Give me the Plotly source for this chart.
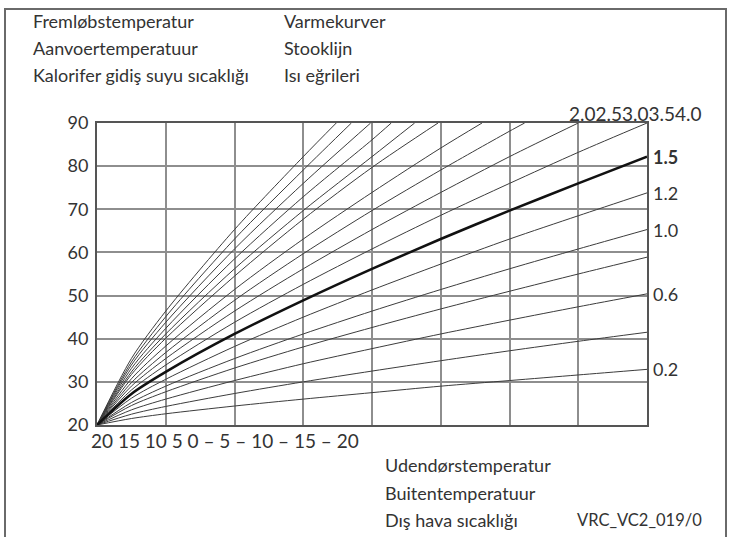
import plotly.graph_objects as go

# Outdoor temperature sample points (x axis, reversed: 20 .. -20)
t_out = [20, 17.5, 15, 10, 5, 0, -5, -10, -15, -20]

# Flow temperature curves
c_020 = [20, 21.5, 22.6, 24.4, 26.0, 27.5, 29.0, 30.3, 31.6, 32.9]
c_040 = [20, 22.5, 24.3, 27.3, 30.0, 32.5, 34.9, 37.2, 39.4, 41.5]
c_060 = [20, 23.5, 26.0, 30.3, 34.2, 37.7, 41.1, 44.3, 47.4, 50.4]
c_080 = [20, 24.5, 27.7, 33.2, 38.1, 42.6, 46.9, 51.0, 55.0, 58.9]
c_100 = [20, 25.2, 29.0, 35.4, 41.1, 46.4, 51.4, 56.2, 60.8, 65.3]
c_120 = [20, 26.2, 30.6, 38.2, 45.0, 51.3, 57.3, 63.1, 68.5, 73.8]
c_150 = [20, 27.2, 32.3, 41.1, 48.9, 56.2, 63.1, 69.7, 76.0, 82.2]
c_175 = [20, 28.1, 33.9, 43.8, 52.6, 60.8, 68.6, 76.0, 83.2, 90.0]

x_200 = [20, 17.5, 15, 10, 5, 0, -5, -10, -15]
c_200 = [20, 29.0, 35.4, 46.4, 56.2, 65.3, 73.9, 82.2, 90.0]
x_225 = [20, 17.5, 15, 10, 5, 0, -5, -10, -11.1]
c_225 = [20, 29.8, 36.8, 48.9, 59.7, 69.7, 79.1, 88.1, 90.0]
x_250 = [20, 17.5, 15, 10, 5, 0, -5, -8]
c_250 = [20, 30.7, 38.3, 51.4, 63.1, 73.9, 84.2, 90.0]
x_275 = [20, 17.5, 15, 10, 5, 0, -4.8]
c_275 = [20, 31.7, 40.1, 54.5, 67.7, 79.7, 90.0]
x_300 = [20, 17.5, 15, 10, 5, 0, -3.1]
c_300 = [20, 32.3, 41.1, 56.2, 69.7, 82.2, 90.0]
x_325 = [20, 17.5, 15, 10, 5, 0, -1.4]
c_325 = [20, 33.1, 42.4, 58.5, 72.9, 86.1, 90.0]
x_350 = [20, 17.5, 15, 10, 5, 0.1]
c_350 = [20, 33.9, 43.8, 60.8, 76.0, 90.0]
x_375 = [20, 17.5, 15, 10, 5, 1.5]
c_375 = [20, 34.6, 45.1, 63.1, 79.1, 90.0]
x_400 = [20, 17.5, 15, 10, 5, 2.6]
c_400 = [20, 35.4, 46.4, 65.3, 82.2, 90.0]

curves = [
    ("0.2", t_out, c_020), ("0.4", t_out, c_040), ("0.6", t_out, c_060),
    ("0.8", t_out, c_080), ("1.0", t_out, c_100), ("1.2", t_out, c_120),
    ("1.75", t_out, c_175), ("2.0", x_200, c_200), ("2.25", x_225, c_225),
    ("2.5", x_250, c_250), ("2.75", x_275, c_275), ("3.0", x_300, c_300),
    ("3.25", x_325, c_325), ("3.5", x_350, c_350), ("3.75", x_375, c_375),
    ("4.0", x_400, c_400),
]

right_labels = ["0.2", "0.6", "1.0", "1.2", "1.5"]
right_values = [c_020[-1], c_060[-1], c_100[-1], c_120[-1], c_150[-1]]
top_labels = ["2.0", "2.5", "3.0", "3.5", "4.0"]
x_tick_vals = [20, 15, 10, 5, 0, -5, -10, -15, -20]
x_tick_labels = ["20", "15", "10", "5", "0", "– 5", "– 10", "– 15", "– 20"]
y_tick_vals = [20, 30, 40, 50, 60, 70, 80, 90]

left_titles = ["Fremløbstemperatur", "Aanvoertemperatuur", "Kalorifer gidiş suyu sıcaklığı"]
mid_titles = ["Varmekurver", "Stooklijn", "Isı eğrileri"]
bottom_titles = ["Udendørstemperatur", "Buitentemperatuur", "Dış hava sıcaklığı"]
code_text = "VRC_VC2_019/0"

FONT = "Lato"
TXT = "#333333"

fig = go.Figure()
for name, xs, ys in curves:
    fig.add_trace(go.Scatter(x=xs, y=ys, mode="lines", name=name,
                             line=dict(color="#3c3c3c", width=1, shape="spline", smoothing=0.8),
                             hoverinfo="skip"))
fig.add_trace(go.Scatter(x=t_out, y=c_150, mode="lines", name="1.5",
                         line=dict(color="#111111", width=2.6, shape="spline", smoothing=0.8),
                         hoverinfo="skip"))

# plot geometry (pixels)
L, R, T, B = 97, 647, 123, 425
W, H = R - L, B - T
def px(x): return (x - L) / W
def py(y): return (B - y) / H

ann = []
for i, t in enumerate(left_titles):
    ann.append(dict(x=px(31), y=py(21 + 27 * i), text=t))
for i, t in enumerate(mid_titles):
    ann.append(dict(x=px(282), y=py(21 + 27 * i), text=t))
for i, t in enumerate(bottom_titles):
    ann.append(dict(x=px(383), y=py(465 + 27.5 * i), text=t))
ann.append(dict(x=px(575), y=py(520), text=code_text, size=16.5))
ann.append(dict(x=px(89), y=py(440), text=" ".join(x_tick_labels), size=19))
ann.append(dict(x=px(567), y=py(113), text="".join(top_labels), size=19))

annotations = []
for a in ann:
    annotations.append(dict(x=a["x"], y=a["y"], xref="paper", yref="paper", text=a["text"],
                            showarrow=False, xanchor="left", yanchor="middle",
                            font=dict(family=FONT, size=a.get("size", 18), color=TXT)))
for lab, val in zip(right_labels, right_values):
    txt = "<b>%s</b>" % lab if lab == "1.5" else lab
    annotations.append(dict(x=px(651), y=val, xref="paper", yref="y", text=txt,
                            showarrow=False, xanchor="left", yanchor="middle",
                            font=dict(family=FONT, size=18, color=TXT)))

fig.update_layout(
    width=729, height=537,
    margin=dict(l=L, r=729 - R, t=T, b=537 - B),
    paper_bgcolor="white", plot_bgcolor="white",
    showlegend=False,
    annotations=annotations,
    shapes=[dict(type="rect", xref="paper", yref="paper",
                 x0=px(5), x1=px(726), y0=py(545), y1=py(9),
                 line=dict(color="#6a6a6a", width=2), layer="below")],
)
fig.update_xaxes(range=[20, -20], tickvals=x_tick_vals, showticklabels=False,
                 showgrid=True, gridcolor="#8e8e8e", gridwidth=1.5,
                 showline=True, mirror=True, linecolor="#555555", linewidth=2,
                 zeroline=False, ticks="")
fig.update_yaxes(range=[20, 90], tickvals=y_tick_vals,
                 showgrid=True, gridcolor="#8e8e8e", gridwidth=1.5,
                 showline=True, mirror=True, linecolor="#555555", linewidth=2,
                 zeroline=False, ticks="", ticklabelstandoff=3,
                 tickfont=dict(family=FONT, size=18, color=TXT))

fig.write_html("out.html")
